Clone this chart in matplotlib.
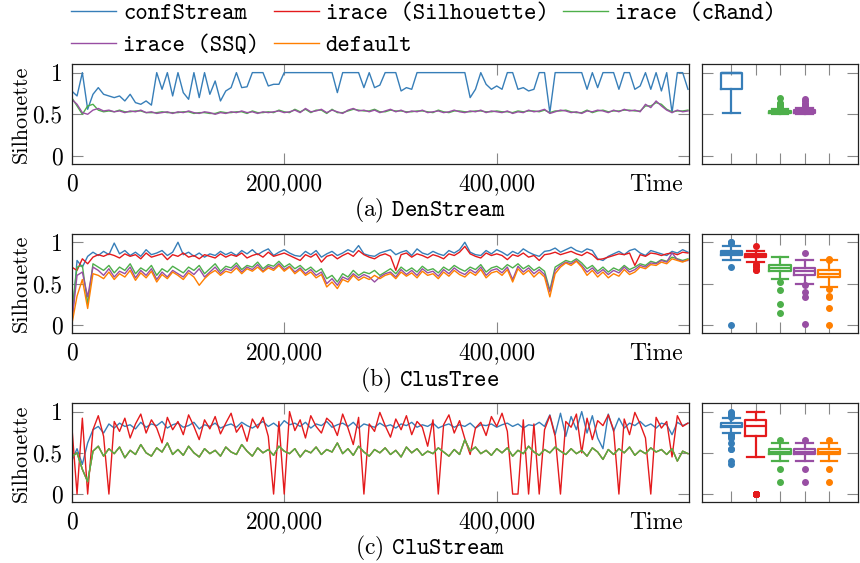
import matplotlib.pyplot as plt
import numpy as np

plt.rcParams['font.family'] = 'cmr10'
plt.rcParams['mathtext.fontset'] = 'cm'
plt.rcParams['axes.unicode_minus'] = False

names = ['confStream', 'irace (Silhouette)', 'irace (cRand)', 'irace (SSQ)', 'default']
colors = ['#377eb8', '#e41a1c', '#4daf4a', '#984ea3', '#ff7f00']
captions = [r'(a) $\mathtt{DenStream}$', r'(b) $\mathtt{ClusTree}$', r'(c) $\mathtt{CluStream}$']
step = 5000  # time between two samples
xticks = [0, 200000, 400000]
xticklabels = ['0', '200,000', '400,000']
yticks = [0, 0.5, 1]
yticklabels = ['0', '0.5', '1']

# (a) DenStream
den_conf = [
    0.78, 0.72, 1.00, 0.56, 0.74, 0.82, 0.74, 0.72, 0.70, 0.72,
    0.66, 0.74, 0.64, 0.62, 0.66, 0.61, 1.00, 0.80, 1.00, 0.72,
    1.00, 0.76, 0.68, 1.00, 0.70, 1.00, 0.74, 0.90, 0.66, 0.78,
    0.82, 1.00, 0.82, 0.83, 1.00, 1.00, 1.00, 0.84, 0.86, 0.86,
    1.00, 1.00, 1.00, 1.00, 1.00, 1.00, 1.00, 1.00, 1.00, 1.00,
    0.76, 1.00, 1.00, 1.00, 1.00, 0.82, 1.00, 0.82, 0.85, 1.00,
    1.00, 1.00, 0.78, 0.82, 0.80, 1.00, 1.00, 1.00, 1.00, 1.00,
    1.00, 1.00, 1.00, 1.00, 1.00, 0.70, 0.80, 1.00, 0.86, 0.80,
    0.84, 0.80, 1.00, 1.00, 0.80, 0.82, 0.78, 0.80, 1.00, 1.00,
    0.52, 1.00, 1.00, 1.00, 1.00, 1.00, 1.00, 0.80, 1.00, 0.82,
    1.00, 1.00, 1.00, 0.80, 1.00, 1.00, 0.80, 0.84, 1.00, 0.80,
    1.00, 0.78, 1.00, 0.52, 1.00, 1.00, 0.80]
den_crand = [
    0.70, 0.60, 0.50, 0.60, 0.62, 0.55, 0.53, 0.54, 0.53, 0.55,
    0.53, 0.53, 0.54, 0.54, 0.52, 0.52, 0.52, 0.53, 0.52, 0.52,
    0.52, 0.53, 0.53, 0.51, 0.52, 0.52, 0.51, 0.51, 0.53, 0.52,
    0.52, 0.53, 0.53, 0.51, 0.54, 0.52, 0.52, 0.53, 0.52, 0.55,
    0.53, 0.52, 0.56, 0.53, 0.56, 0.52, 0.55, 0.55, 0.51, 0.56,
    0.52, 0.52, 0.54, 0.56, 0.55, 0.54, 0.54, 0.56, 0.53, 0.53,
    0.55, 0.54, 0.54, 0.53, 0.53, 0.54, 0.54, 0.53, 0.52, 0.55,
    0.53, 0.52, 0.54, 0.54, 0.53, 0.53, 0.54, 0.54, 0.53, 0.53,
    0.54, 0.53, 0.53, 0.52, 0.54, 0.53, 0.54, 0.54, 0.53, 0.55,
    0.52, 0.54, 0.54, 0.55, 0.53, 0.52, 0.52, 0.55, 0.52, 0.54,
    0.55, 0.53, 0.54, 0.54, 0.55, 0.55, 0.54, 0.54, 0.60, 0.60,
    0.64, 0.62, 0.56, 0.53, 0.54, 0.54, 0.55]
den_ssq = [
    0.68, 0.62, 0.52, 0.50, 0.55, 0.57, 0.54, 0.55, 0.53, 0.54,
    0.52, 0.54, 0.53, 0.55, 0.52, 0.53, 0.51, 0.52, 0.53, 0.51,
    0.53, 0.52, 0.54, 0.52, 0.51, 0.53, 0.52, 0.50, 0.52, 0.51,
    0.53, 0.52, 0.54, 0.52, 0.53, 0.51, 0.53, 0.52, 0.53, 0.54,
    0.52, 0.53, 0.55, 0.52, 0.57, 0.53, 0.54, 0.56, 0.52, 0.55,
    0.53, 0.51, 0.55, 0.57, 0.54, 0.55, 0.53, 0.55, 0.52, 0.54,
    0.56, 0.53, 0.55, 0.52, 0.54, 0.53, 0.55, 0.52, 0.53, 0.54,
    0.52, 0.53, 0.55, 0.53, 0.52, 0.54, 0.53, 0.55, 0.52, 0.54,
    0.53, 0.52, 0.54, 0.51, 0.53, 0.52, 0.55, 0.53, 0.54, 0.56,
    0.51, 0.53, 0.55, 0.54, 0.52, 0.53, 0.51, 0.54, 0.53, 0.55,
    0.54, 0.52, 0.55, 0.53, 0.56, 0.54, 0.55, 0.53, 0.62, 0.58,
    0.66, 0.60, 0.55, 0.52, 0.55, 0.53, 0.54]

# (b) ClusTree
clt_conf = [
    0.00, 0.78, 0.70, 0.83, 0.88, 0.84, 0.89, 0.85, 0.99, 0.86,
    0.90, 0.84, 0.88, 0.83, 0.91, 0.85, 0.87, 0.90, 0.84, 0.88,
    1.00, 0.85, 0.88, 0.83, 0.87, 0.82, 0.86, 0.84, 0.89, 0.85,
    0.88, 0.84, 0.90, 0.86, 0.91, 0.85, 0.89, 0.92, 0.84, 0.88,
    0.91, 0.87, 0.84, 0.83, 0.89, 0.85, 0.90, 0.82, 0.86, 0.89,
    0.84, 0.87, 0.91, 0.88, 0.96, 0.86, 0.84, 0.83, 0.87, 0.89,
    0.91, 0.85, 0.88, 0.90, 0.84, 0.92, 0.87, 0.85, 0.89, 0.86,
    0.84, 0.90, 0.87, 0.91, 1.00, 0.88, 0.85, 0.84, 0.90, 0.86,
    0.91, 0.88, 0.84, 0.89, 0.86, 0.92, 0.88, 0.85, 0.83, 0.89,
    0.90, 0.93, 0.88, 0.91, 0.94, 0.90, 0.88, 0.92, 0.90, 0.80,
    0.78, 0.83, 0.86, 0.89, 0.85, 0.90, 0.92, 0.87, 0.84, 0.90,
    0.88, 0.86, 0.84, 0.89, 0.87, 0.91, 0.88]
clt_sil = [
    0.70, 0.66, 0.80, 0.74, 0.82, 0.85, 0.83, 0.86, 0.84, 0.81,
    0.86, 0.83, 0.85, 0.80, 0.87, 0.82, 0.84, 0.86, 0.79, 0.85,
    0.83, 0.87, 0.82, 0.84, 0.80, 0.85, 0.83, 0.81, 0.86, 0.82,
    0.85, 0.83, 0.87, 0.81, 0.84, 0.86, 0.82, 0.88, 0.83, 0.85,
    0.87, 0.84, 0.81, 0.78, 0.85, 0.82, 0.86, 0.76, 0.83, 0.85,
    0.80, 0.84, 0.87, 0.83, 0.90, 0.85, 0.82, 0.80, 0.84, 0.86,
    0.83, 0.66, 0.85, 0.87, 0.82, 0.86, 0.84, 0.81, 0.85, 0.83,
    0.80, 0.86, 0.84, 0.88, 0.95, 0.86, 0.83, 0.81, 0.87, 0.84,
    0.86, 0.84, 0.79, 0.85, 0.83, 0.87, 0.82, 0.84, 0.78, 0.85,
    0.86, 0.88, 0.85, 0.87, 0.89, 0.86, 0.84, 0.88, 0.85, 0.79,
    0.80, 0.82, 0.84, 0.86, 0.85, 0.87, 0.72, 0.85, 0.83, 0.87,
    0.86, 0.84, 0.86, 0.87, 0.85, 0.88, 0.87]
clt_crand = [
    0.15, 0.70, 0.72, 0.25, 0.74, 0.70, 0.66, 0.72, 0.63, 0.70,
    0.66, 0.74, 0.62, 0.69, 0.65, 0.72, 0.60, 0.68, 0.64, 0.71,
    0.67, 0.63, 0.70, 0.66, 0.72, 0.62, 0.68, 0.74, 0.65, 0.71,
    0.69, 0.75, 0.67, 0.72, 0.70, 0.76, 0.68, 0.73, 0.71, 0.77,
    0.70, 0.74, 0.68, 0.72, 0.66, 0.70, 0.64, 0.68, 0.56, 0.60,
    0.52, 0.62, 0.58, 0.66, 0.60, 0.64, 0.62, 0.66, 0.60, 0.64,
    0.68, 0.62, 0.70, 0.65, 0.69, 0.64, 0.71, 0.66, 0.68, 0.63,
    0.70, 0.66, 0.72, 0.68, 0.65, 0.70, 0.67, 0.73, 0.64, 0.69,
    0.71, 0.67, 0.73, 0.69, 0.74, 0.68, 0.72, 0.66, 0.70, 0.65,
    0.42, 0.70, 0.74, 0.78, 0.76, 0.80, 0.75, 0.68, 0.72, 0.65,
    0.70, 0.64, 0.69, 0.66, 0.72, 0.67, 0.70, 0.74, 0.72, 0.77,
    0.75, 0.79, 0.77, 0.82, 0.80, 0.78, 0.80]
clt_ssq = [
    0.01, 0.60, 0.64, 0.34, 0.70, 0.66, 0.60, 0.68, 0.58, 0.65,
    0.62, 0.70, 0.57, 0.66, 0.60, 0.68, 0.55, 0.64, 0.58, 0.66,
    0.62, 0.58, 0.66, 0.61, 0.68, 0.58, 0.64, 0.70, 0.62, 0.68,
    0.66, 0.72, 0.64, 0.70, 0.67, 0.73, 0.65, 0.71, 0.68, 0.74,
    0.67, 0.71, 0.64, 0.69, 0.62, 0.67, 0.60, 0.64, 0.50, 0.56,
    0.48, 0.58, 0.55, 0.62, 0.57, 0.61, 0.58, 0.52, 0.58, 0.62,
    0.64, 0.58, 0.67, 0.61, 0.66, 0.60, 0.68, 0.63, 0.65, 0.59,
    0.67, 0.62, 0.69, 0.64, 0.61, 0.67, 0.63, 0.70, 0.60, 0.66,
    0.68, 0.63, 0.70, 0.55, 0.71, 0.64, 0.69, 0.62, 0.67, 0.61,
    0.40, 0.66, 0.72, 0.76, 0.74, 0.78, 0.72, 0.64, 0.69, 0.62,
    0.67, 0.61, 0.66, 0.63, 0.70, 0.64, 0.67, 0.72, 0.70, 0.75,
    0.74, 0.78, 0.76, 0.87, 0.79, 0.77, 0.78]
clt_def = [
    0.00, 0.35, 0.55, 0.20, 0.62, 0.60, 0.56, 0.64, 0.55, 0.62,
    0.58, 0.66, 0.54, 0.63, 0.57, 0.65, 0.52, 0.61, 0.56, 0.64,
    0.60, 0.55, 0.63, 0.58, 0.48, 0.56, 0.62, 0.66, 0.60, 0.65,
    0.63, 0.69, 0.62, 0.68, 0.65, 0.70, 0.64, 0.69, 0.66, 0.72,
    0.65, 0.70, 0.62, 0.67, 0.60, 0.64, 0.57, 0.61, 0.46, 0.52,
    0.44, 0.55, 0.52, 0.60, 0.54, 0.58, 0.55, 0.60, 0.56, 0.60,
    0.62, 0.56, 0.64, 0.59, 0.63, 0.57, 0.65, 0.60, 0.62, 0.56,
    0.64, 0.59, 0.66, 0.61, 0.58, 0.64, 0.60, 0.67, 0.57, 0.63,
    0.65, 0.60, 0.67, 0.52, 0.68, 0.61, 0.66, 0.58, 0.64, 0.58,
    0.34, 0.62, 0.70, 0.75, 0.72, 0.77, 0.70, 0.60, 0.66, 0.58,
    0.64, 0.57, 0.62, 0.59, 0.67, 0.61, 0.64, 0.70, 0.68, 0.73,
    0.72, 0.76, 0.74, 0.80, 0.78, 0.76, 0.79]

# (c) CluStream
clu_conf = [
    0.40, 0.55, 0.36, 0.62, 0.78, 0.82, 0.74, 0.85, 0.80, 0.86,
    0.82, 0.84, 0.79, 0.87, 0.81, 0.85, 0.83, 0.88, 0.80, 0.84,
    0.86, 0.81, 0.83, 0.87, 0.79, 0.84, 0.82, 0.86, 0.80, 0.83,
    0.85, 0.81, 0.87, 0.83, 0.80, 0.84, 0.88, 0.82, 0.86, 0.81,
    0.89, 0.84, 0.86, 0.82, 0.87, 0.80, 0.85, 0.83, 0.88, 0.81,
    0.84, 0.86, 0.82, 0.87, 0.80, 0.85, 0.83, 0.81, 0.86, 0.82,
    0.84, 0.80, 0.85, 0.83, 0.87, 0.81, 0.84, 0.82, 0.86, 0.80,
    0.83, 0.85, 0.81, 0.84, 0.82, 0.86, 0.80, 0.84, 0.83, 0.85,
    0.81, 0.84, 0.86, 0.82, 0.85, 0.80, 0.84, 0.83, 0.87, 0.82,
    0.96, 0.72, 0.98, 0.70, 0.94, 0.78, 1.00, 0.74, 0.95, 0.68,
    0.55, 0.97, 0.76, 0.92, 0.80, 0.86, 0.83, 0.88, 0.82, 0.85,
    0.80, 0.86, 0.84, 0.72, 0.87, 0.83, 0.86]
clu_sil = [
    0.84, 0.00, 0.92, 0.00, 0.78, 0.95, 0.70, 0.00, 0.88, 0.76,
    0.92, 0.68, 0.85, 0.97, 0.74, 0.90, 0.80, 0.62, 0.93, 0.78,
    0.88, 0.72, 0.96, 0.82, 0.66, 0.90, 0.79, 0.94, 0.73, 0.86,
    0.98, 0.75, 0.84, 0.64, 0.91, 0.80, 0.93, 0.70, 0.00, 0.88,
    0.00, 1.00, 0.77, 0.90, 0.68, 0.95, 0.82, 0.74, 0.92, 0.86,
    0.71, 0.97, 0.80, 0.60, 0.93, 0.00, 0.85, 0.76, 0.99, 0.83,
    0.69, 0.91, 0.78, 0.95, 0.72, 0.88, 0.81, 0.58, 0.90, 0.00,
    0.84, 0.96, 0.74, 0.89, 0.67, 0.48, 0.80, 0.87, 0.71, 0.94,
    0.82, 0.98, 0.76, 0.00, 0.00, 0.90, 0.00, 0.85, 0.00, 0.78,
    0.95, 0.70, 0.00, 0.88, 0.81, 0.97, 0.50, 0.92, 0.66, 0.89,
    0.83, 0.96, 0.78, 0.00, 0.91, 0.72, 0.99, 0.85, 0.68, 0.00,
    0.93, 0.80, 0.88, 0.45, 0.95, 0.82, 0.86]
clu_crand = [
    0.45, 0.50, 0.30, 0.15, 0.52, 0.58, 0.46, 0.55, 0.49, 0.57,
    0.44, 0.53, 0.48, 0.60, 0.50, 0.46, 0.56, 0.51, 0.62, 0.48,
    0.54, 0.47, 0.58, 0.50, 0.45, 0.55, 0.49, 0.53, 0.46, 0.57,
    0.51, 0.48, 0.60, 0.52, 0.46, 0.56, 0.50, 0.54, 0.47, 0.58,
    0.52, 0.49, 0.55, 0.45, 0.53, 0.50, 0.57, 0.48, 0.54, 0.51,
    0.62, 0.49, 0.55, 0.47, 0.58, 0.51, 0.46, 0.54, 0.50, 0.56,
    0.48, 0.53, 0.45, 0.57, 0.50, 0.55, 0.47, 0.52, 0.49, 0.56,
    0.51, 0.46, 0.54, 0.48, 0.66, 0.52, 0.57, 0.49, 0.53, 0.47,
    0.55, 0.50, 0.56, 0.46, 0.53, 0.49, 0.58, 0.51, 0.47, 0.54,
    0.50, 0.57, 0.52, 0.48, 0.55, 0.49, 0.53, 0.46, 0.56, 0.51,
    0.42, 0.54, 0.48, 0.55, 0.50, 0.57, 0.47, 0.53, 0.49, 0.56,
    0.51, 0.54, 0.48, 0.55, 0.40, 0.52, 0.49]
# SSQ and default runs give the same clustering as cRand here
clu_ssq = clu_crand
clu_def = clu_crand

rows = [
    [den_conf, None, den_crand, den_ssq, None],
    [clt_conf, clt_sil, clt_crand, clt_ssq, clt_def],
    [clu_conf, clu_sil, clu_crand, clu_ssq, clu_def],
]
draw_order = [[0, 1, 2, 3, 4], [0, 1, 2, 3, 4], [0, 1, 3, 4, 2]]

fig = plt.figure(figsize=(8.6, 5.63), dpi=100)
line_left, line_w = 0.0834, 0.7178
box_left, box_w = 0.8163, 0.1817
bottoms = [0.7082, 0.408, 0.1078]
heights = [0.1776, 0.1764, 0.1758]
cap_y = [0.626, 0.324, 0.025]


def style(ax):
    for sp in ax.spines.values():
        sp.set_color('#222222')
        sp.set_linewidth(0.9)
    ax.tick_params(direction='in', length=8, width=0.8, color='#888888',
                   top=True, right=True, labelsize=17, pad=6.5)
    ax.set_ylim(-0.1, 1.1)
    ax.set_yticks(yticks)


handles = []
for r, series in enumerate(rows):
    ax = fig.add_axes([line_left, bottoms[r], line_w, heights[r]])
    bx = fig.add_axes([box_left, bottoms[r], box_w, heights[r]])
    style(ax)
    style(bx)

    for k in draw_order[r]:
        vals = series[k]
        if vals is None:
            continue
        t = np.arange(len(vals)) * step
        ln, = ax.plot(t, vals, color=colors[k], lw=1.0)
        if r == 1:
            handles.append((k, ln))

    ax.set_xlim(0, 581000)
    ax.set_xticks(xticks)
    ax.set_xticklabels(xticklabels)
    ax.set_yticklabels(yticklabels)
    ax.set_ylabel('Silhouette', fontsize=16)
    ax.yaxis.set_label_coords(-0.067, 0.5)
    ax.text(0.99, -0.095, 'Time', transform=ax.transAxes, ha='right',
            va='top', fontsize=17)

    for k, vals in enumerate(series):
        if vals is None:
            continue
        c = colors[k]
        bx.boxplot([vals], positions=[k + 1], widths=0.88, capwidths=0.68,
                   manage_ticks=False,
                   boxprops=dict(color=c, lw=1.6),
                   medianprops=dict(color=c, lw=1.6),
                   whiskerprops=dict(color=c, lw=1.6),
                   capprops=dict(color=c, lw=1.6),
                   flierprops=dict(marker='o', markerfacecolor=c,
                                   markeredgecolor=c, markersize=4))
    bx.set_xlim(-0.2, 6.2)
    bx.set_xticks([1, 2, 3, 4, 5])
    bx.set_xticklabels([])
    bx.set_yticklabels([])

    fig.text(0.5, cap_y[r], captions[r], ha='center', va='center', fontsize=17)

handles = [h for _, h in sorted(handles, key=lambda p: p[0])]
# legend is filled column by column, reorder so it reads row by row
order = [0, 3, 1, 4, 2]
fig.legend([handles[i] for i in order], [names[i] for i in order],
           loc='upper left', bbox_to_anchor=(0.083, 0.995), ncol=3,
           frameon=False, prop={'family': 'cmtt10', 'size': 17},
           handlelength=1.9, handletextpad=0.3, columnspacing=0.6,
           borderpad=0, borderaxespad=0, labelspacing=0.38)

fig.savefig('out.png', dpi=100)
